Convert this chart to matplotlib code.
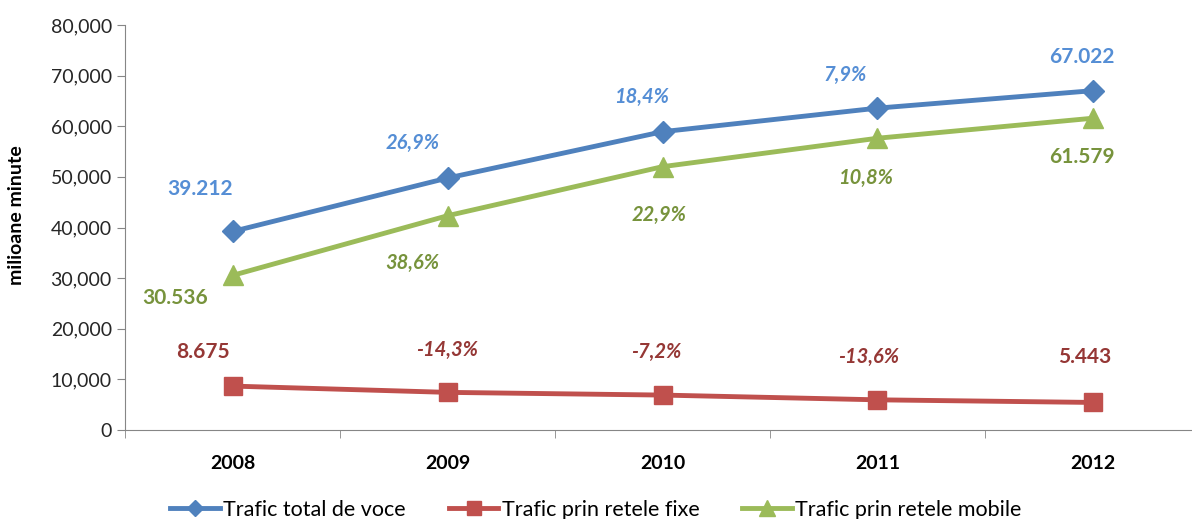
import matplotlib.pyplot as plt
from matplotlib.ticker import FuncFormatter
from matplotlib.lines import Line2D

years = ['2008', '2009', '2010', '2011', '2012']

total = [39212, 49766, 58923, 63578, 67022]
fixe = [8675, 7434, 6899, 5961, 5443]
mobile = [30536, 42323, 52015, 57632, 61579]

total_labels = ['39.212', '26,9%', '18,4%', '7,9%', '67.022']
fixe_labels = ['8.675', '-14,3%', '-7,2%', '-13,6%', '5.443']
mobile_labels = ['30.536', '38,6%', '22,9%', '10,8%', '61.579']

names = ['Trafic total de voce', 'Trafic prin retele fixe', 'Trafic prin retele mobile']

plt.rcParams['font.family'] = ['Lato', 'DejaVu Sans']

fig = plt.figure(figsize=(11.92, 5.19), dpi=100)
ax = fig.add_axes([125 / 1192, 1 - 430 / 519, 1075 / 1192, 405 / 519])

x = range(len(years))
ax.plot(x, total, color='#4F81BD', lw=3.5, marker='D', ms=11)
ax.plot(x, fixe, color='#C0504D', lw=3.5, marker='s', ms=13)
ax.plot(x, mobile, color='#9BBB59', lw=3.5, marker='^', ms=14)

# label offsets in pixels (dx, dy)
total_off = [(-32, 42), (-35, 35), (-21, 35), (-32, 33), (-11, 34)]
fixe_off = [(-30, 34), (0, 42), (-6, 43), (-9, 43), (-8, 45)]
mobile_off = [(-57, -23), (-35, -47), (-3, -48), (-12, -40), (-11, -39)]

series = [
    (total, total_labels, total_off, '#558ED5'),
    (fixe, fixe_labels, fixe_off, '#953735'),
    (mobile, mobile_labels, mobile_off, '#77933C'),
]
for vals, labs, offs, col in series:
    for i, (v, t, o) in enumerate(zip(vals, labs, offs)):
        pct = '%' in t
        ax.annotate(t, (i, v), xytext=o, textcoords='offset pixels',
                    ha='center', va='center', fontsize=14.5 if pct else 15,
                    fontweight='bold', fontstyle='italic' if pct else 'normal',
                    color=col)

ax.set_xlim(-0.5, 4.5)
ax.set_ylim(0, 80000)
ax.set_yticks(range(0, 80001, 10000))
ax.yaxis.set_major_formatter(FuncFormatter(lambda v, p: f'{int(v):,}'))
ax.set_xticks(list(x))
ax.set_xticklabels(years, fontweight='bold', fontsize=14)
ax.set_xticks([i + 0.5 for i in range(-1, 5)], minor=True)
ax.tick_params(axis='x', which='major', length=0, pad=18)
ax.tick_params(axis='x', which='minor', length=6, color='#868686')
ax.tick_params(axis='y', labelsize=14, length=6, color='#868686', labelcolor='#262626')
ax.set_ylabel('milioane minute', fontsize=14, fontweight='bold')
ax.yaxis.set_label_coords(-100 / 1075, 0.53)

for s in ['top', 'right']:
    ax.spines[s].set_visible(False)
ax.spines['left'].set_color('#868686')
ax.spines['bottom'].set_color('#868686')

handles = [
    Line2D([], [], color='#4F81BD', lw=3.5, marker='D', ms=8),
    Line2D([], [], color='#C0504D', lw=3.5, marker='s', ms=10),
    Line2D([], [], color='#9BBB59', lw=3.5, marker='^', ms=11),
]
fig.legend(handles, names, loc='center', bbox_to_anchor=(0.5, 9 / 519), ncol=3,
           frameon=False, fontsize=15.5, handlelength=2.3, columnspacing=2.0,
           handletextpad=0.15)

fig.savefig('out.png', dpi=100)
